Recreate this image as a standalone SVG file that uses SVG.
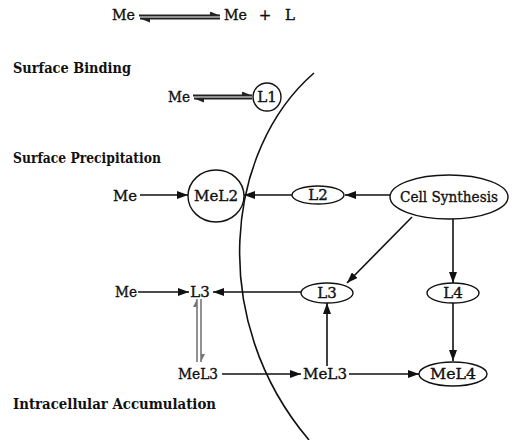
<svg xmlns="http://www.w3.org/2000/svg" width="514" height="440" viewBox="0 0 514 440">
<style>
.lbl{font-family:"DejaVu Serif","Liberation Serif",serif;font-size:15px;fill:#111;stroke:#111;stroke-width:0.35}
.sec{font-family:"DejaVu Serif","Liberation Serif",serif;font-size:14px;font-weight:bold;fill:#111}
.node{fill:#fff;stroke:#111;stroke-width:1.4}
.ln{stroke:#111;stroke-width:1.6;fill:none}
.eq{stroke:#222;stroke-width:2;fill:none}
.dbl{stroke:#777;stroke-width:1.6;fill:none}
</style>
<defs>
<marker id="ah" markerWidth="11" markerHeight="8" refX="11" refY="4" orient="auto" markerUnits="userSpaceOnUse"><path d="M0,0 L11,4 L0,8 z" fill="#111"/></marker>
<marker id="hp" markerWidth="10" markerHeight="5" refX="10" refY="4" orient="auto" markerUnits="userSpaceOnUse"><path d="M0,0 L10,4 L0,4 z" fill="#222"/></marker>
<marker id="hpg" markerWidth="8" markerHeight="5" refX="8" refY="4" orient="auto" markerUnits="userSpaceOnUse"><path d="M0,0 L8,4 L0,4 z" fill="#777"/></marker>
</defs>

<path id="membrane" class="ln" d="M314,73 C225,150 207,320 309,440"/>

<g id="connectors">
<line class="eq" x1="139" y1="15.5" x2="220" y2="15.5" marker-end="url(#hp)"/>
<line class="eq" x1="220" y1="18.5" x2="140" y2="18.5" marker-end="url(#hp)"/>
<line class="eq" x1="193" y1="95.5" x2="252" y2="95.5" marker-end="url(#hp)"/>
<line class="eq" x1="252" y1="98.5" x2="194" y2="98.5" marker-end="url(#hp)"/>
<line class="ln" x1="140" y1="195" x2="188" y2="195" marker-end="url(#ah)"/>
<line class="ln" x1="292" y1="195" x2="244" y2="195" marker-end="url(#ah)"/>
<line class="ln" x1="390" y1="195" x2="345" y2="195" marker-end="url(#ah)"/>
<line class="ln" x1="412" y1="217" x2="347" y2="283" marker-end="url(#ah)"/>
<line class="ln" x1="453" y1="219" x2="453" y2="283" marker-end="url(#ah)"/>
<line class="ln" x1="453" y1="303" x2="453" y2="361" marker-end="url(#ah)"/>
<line class="ln" x1="138" y1="292" x2="189" y2="292" marker-end="url(#ah)"/>
<line class="ln" x1="301" y1="292" x2="213" y2="292" marker-end="url(#ah)"/>
<line class="dbl" x1="197" y1="362" x2="197" y2="299" marker-end="url(#hpg)"/>
<line class="dbl" x1="201" y1="299" x2="201" y2="362" marker-end="url(#hpg)"/>
<line class="ln" x1="222" y1="374" x2="301" y2="374" marker-end="url(#ah)"/>
<line class="ln" x1="327" y1="366" x2="327" y2="303" marker-end="url(#ah)"/>
<line class="ln" x1="349" y1="374" x2="419" y2="374" marker-end="url(#ah)"/>
</g>

<g id="top-me"><text class="lbl" x="112" y="20" textLength="23" lengthAdjust="spacingAndGlyphs">Me</text></g>
<g id="top-me-l"><text class="lbl" x="224" y="20" textLength="23" lengthAdjust="spacingAndGlyphs">Me</text><text class="lbl" x="265" y="20" text-anchor="middle">+</text><text class="lbl" x="285" y="20">L</text></g>

<g id="sec-binding"><text class="sec" x="13" y="73" textLength="118" lengthAdjust="spacingAndGlyphs">Surface Binding</text></g>
<g id="sec-precip"><text class="sec" x="13" y="163" textLength="148" lengthAdjust="spacingAndGlyphs">Surface Precipitation</text></g>
<g id="sec-intra"><text class="sec" x="13" y="409" textLength="203" lengthAdjust="spacingAndGlyphs">Intracellular Accumulation</text></g>

<g id="me-binding"><text class="lbl" x="168" y="102" textLength="22" lengthAdjust="spacingAndGlyphs">Me</text></g>
<g id="L1"><circle class="node" cx="267" cy="97" r="14"/><text class="lbl" x="267" y="102" text-anchor="middle">L1</text></g>

<g id="me-precip"><text class="lbl" x="113" y="201" textLength="24" lengthAdjust="spacingAndGlyphs">Me</text></g>
<g id="MeL2"><ellipse class="node" cx="216" cy="196" rx="28" ry="26"/><text class="lbl" x="216" y="201" text-anchor="middle" textLength="44" lengthAdjust="spacingAndGlyphs">MeL2</text></g>
<g id="L2"><ellipse class="node" cx="318" cy="195" rx="26" ry="9"/><text class="lbl" x="318" y="200" text-anchor="middle">L2</text></g>
<g id="cell-synthesis"><ellipse class="node" cx="449" cy="197" rx="59" ry="22"/><text class="lbl" x="449" y="202" text-anchor="middle" textLength="98" lengthAdjust="spacingAndGlyphs">Cell Synthesis</text></g>

<g id="me-l3row"><text class="lbl" x="115" y="297" textLength="22" lengthAdjust="spacingAndGlyphs">Me</text></g>
<g id="L3-left"><text class="lbl" x="200" y="297" text-anchor="middle">L3</text></g>
<g id="L3-right"><ellipse class="node" cx="327" cy="293" rx="26" ry="10"/><text class="lbl" x="327" y="298" text-anchor="middle">L3</text></g>
<g id="L4"><ellipse class="node" cx="453" cy="293" rx="26" ry="10"/><text class="lbl" x="453" y="298" text-anchor="middle">L4</text></g>

<g id="MeL3-left"><text class="lbl" x="178" y="379" textLength="40" lengthAdjust="spacingAndGlyphs">MeL3</text></g>
<g id="MeL3-right"><text class="lbl" x="303" y="379" textLength="44" lengthAdjust="spacingAndGlyphs">MeL3</text></g>
<g id="MeL4"><ellipse class="node" cx="453" cy="374" rx="34" ry="12"/><text class="lbl" x="453" y="379" text-anchor="middle" textLength="46" lengthAdjust="spacingAndGlyphs">MeL4</text></g>
</svg>
